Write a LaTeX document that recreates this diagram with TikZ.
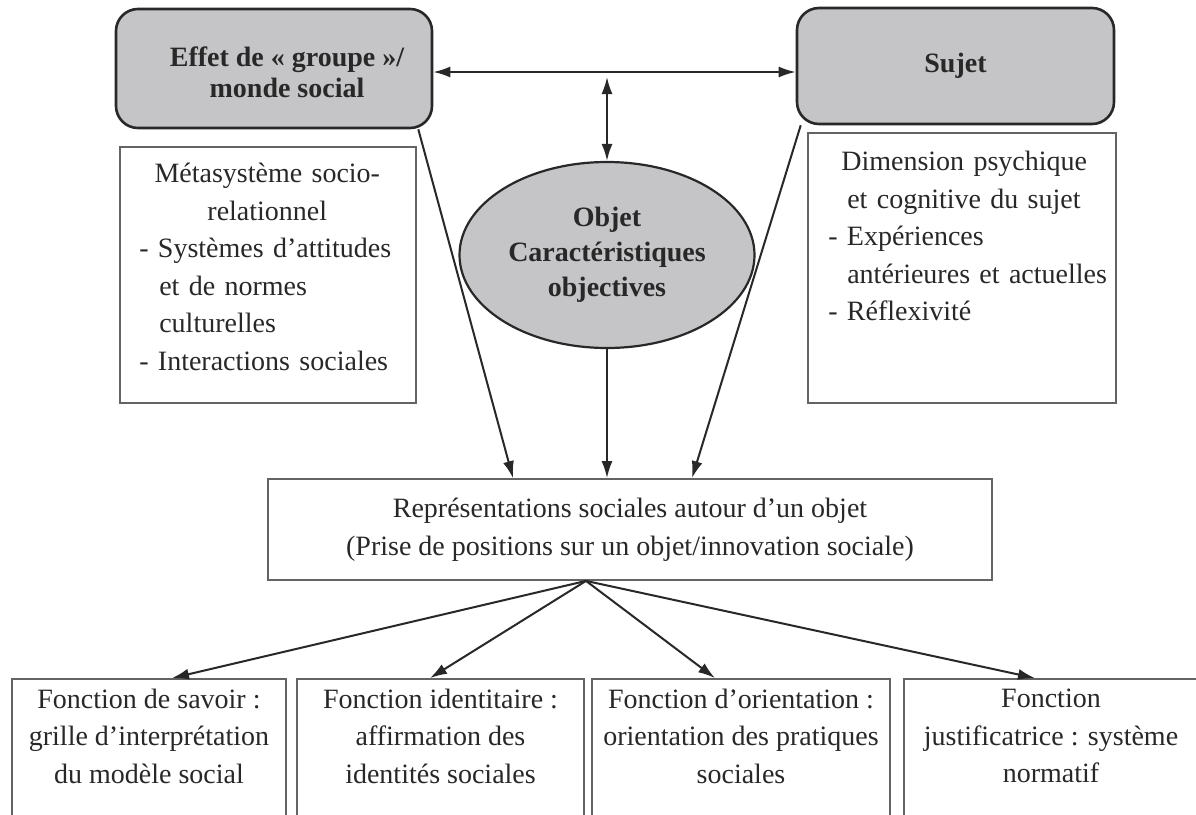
\documentclass[tikz,border=0pt]{standalone}
\usepackage{fontspec}
\setmainfont{Liberation Serif}
\usetikzlibrary{arrows.meta,shapes.geometric}
\definecolor{boxgray}{RGB}{197,197,199}
\definecolor{ink}{RGB}{40,40,40}
\definecolor{framegray}{RGB}{100,100,100}
\begin{document}
\begin{tikzpicture}[x=1pt,y=-1pt,
  txt/.style={font=\fontsize{28}{37.5}\selectfont, text=ink, inner sep=0pt},
  btxt/.style={font=\fontsize{28}{31}\selectfont\bfseries, text=ink, inner sep=0pt},
  rbox/.style={draw=ink, line width=2.6pt, fill=boxgray, rounded corners=22pt},
  tbox/.style={draw=framegray, line width=1.8pt, fill=white, inner sep=0pt},
  arr/.style={draw=ink, line width=2pt, -{Latex[length=17pt,width=11pt]}},
  darr/.style={draw=ink, line width=2pt, {Latex[length=17pt,width=11pt]}-{Latex[length=17pt,width=11pt]}},
]
\useasboundingbox (0,0) rectangle (1196,814);
\clip (0,0) rectangle (1196,814);
\fill[white] (0,0) rectangle (1196,814);

% top boxes
\node[rbox, minimum width=316pt, minimum height=119pt] (grp) at (274,68.5) {};
\node[btxt, align=center] (grptxt) at (287,72) {Effet de «~groupe~»/\\monde social};
\node[rbox, btxt, minimum width=317pt, minimum height=116pt] (suj) at (955.5,66) {Sujet};

% ellipse
\node[ellipse, draw=ink, line width=2.2pt, fill=boxgray, minimum width=295pt, minimum height=186pt,
      inner sep=0pt, text=ink, font=\fontsize{28}{35}\selectfont\bfseries, align=center] (obj) at (607,255)
      {Objet\\Caractéristiques\\objectives};

% side text boxes
\node[tbox, minimum width=296pt, minimum height=256pt] (lbox) at (268,275) {};
\node[txt, anchor=north west, text width=256pt, align=left] (ltxt) at ([shift={(20,17)}]lbox.north west)
  {{\centering Métasystème socio-\\relationnel\par}
   - Systèmes d’attitudes\\
   \hspace*{20pt}et de normes\\
   \hspace*{20pt}culturelles\\
   - Interactions sociales};

\node[tbox, minimum width=308pt, minimum height=270pt] (rbx) at (962,268) {};
\node[txt, anchor=north west, text width=290pt, align=left] (rtxt) at ([shift={(21,19)}]rbx.north west)
  {\hspace*{13pt}Dimension psychique\\
   \hspace*{19pt}et cognitive du sujet\\
   - Expériences\\
   \hspace*{19pt}antérieures et actuelles\\
   - Réflexivité};

% central box
\node[tbox, txt, align=center, minimum width=724pt, minimum height=101pt] (rep) at (630,529.5)
  {Représentations sociales autour d’un objet\\(Prise de positions sur un objet/innovation sociale)};

% bottom boxes
\node[tbox, minimum width=274pt, minimum height=171pt] (f1) at (149,764.5) {};
\node[tbox, minimum width=287pt, minimum height=171pt] (f2) at (440.5,764.5) {};
\node[tbox, minimum width=298pt, minimum height=171pt] (f3) at (741,764.5) {};
\node[tbox, minimum width=294pt, minimum height=171pt] (f4) at (1051,764.5) {};
\node[txt, align=center] (f1t) at (149,736) {Fonction de savoir :\\grille d’interprétation\\du modèle social};
\node[txt, align=center] (f2t) at (440.5,736) {Fonction identitaire :\\affirmation des\\identités sociales};
\node[txt, align=center] (f3t) at (741,736) {Fonction d’orientation :\\orientation des pratiques\\sociales};
\node[txt, align=center] (f4t) at (1051,736) {Fonction\\justificatrice : système\\normatif};

% connectors
\coordinate (hy) at (0,72);
\draw[darr] (grp.east |- hy) -- (suj.west |- hy);
\coordinate (vtop) at (607,77);
\draw[darr] (vtop) -- (obj.north);
\draw[arr] ([xshift=-15pt]grp.south east) -- ([xshift=-117pt]rep.north);
\draw[arr] (obj.south) -- (obj.south |- rep.north);
\draw[arr] ([xshift=5pt]suj.south west) -- ([xshift=62pt]rep.north);
\coordinate (fan) at ([xshift=-44pt]rep.south);
\draw[arr] (fan) -- ([xshift=23pt]f1.north);
\draw[arr] (fan) -- ([xshift=-10.5pt]f2.north);
\draw[arr] (fan) -- ([xshift=-26pt]f3.north);
\draw[arr] (fan) -- ([xshift=-16pt]f4.north);
\end{tikzpicture}
\end{document}
